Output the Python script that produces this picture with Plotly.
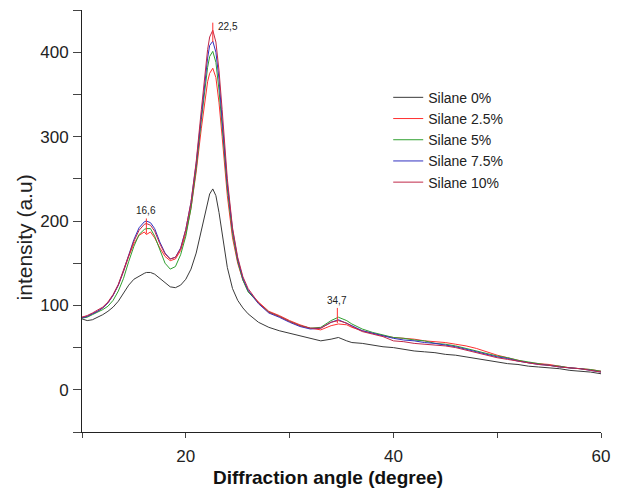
import plotly.graph_objects as go

angle = [10, 10.5, 11, 11.5, 12, 12.5, 13, 13.5, 14, 14.5, 15, 15.5, 16, 16.2, 16.6, 17, 17.5, 18, 18.5, 19,
         19.5, 20, 20.5, 21, 21.5, 21.8, 22.1, 22.3, 22.6, 22.9, 23.2, 23.5, 24, 24.5, 25, 25.5, 26,
         27, 28, 29, 30, 31, 32, 33, 34, 34.7, 35.5, 36, 37, 38, 39, 40, 41, 42, 43, 44, 45, 46, 47, 48,
         49, 50, 51, 52, 53, 54, 55, 56, 57, 58, 59, 60]

silane_0 = [84, 82, 83, 86, 89, 93, 98, 105, 115, 124, 131, 135, 138, 139, 139, 137, 132, 126, 122, 121,
            124, 131, 143, 162, 188, 205, 222, 232, 238, 230, 210, 185, 145, 120, 106, 97, 90,
            80, 74, 70, 67, 64, 61, 58, 60, 62, 58, 56, 55, 53, 51, 50, 48, 46, 45, 44, 42, 41, 39, 37,
            35, 33, 31, 30, 28, 27, 26, 25, 23, 22, 21, 19]
silane_25 = [86, 87, 90, 93, 97, 103, 112, 124, 140, 158, 173, 183, 187, 184, 187, 180, 168, 158, 153, 155,
             165, 185, 215, 258, 310, 340, 365, 375, 381, 370, 340, 300, 230, 180, 150, 130, 117,
             104, 93, 88, 82, 77, 73, 71, 76, 78, 77, 74, 70, 67, 64, 62, 61, 60, 58, 57, 56, 54, 52, 49,
             45, 41, 38, 35, 32, 31, 30, 28, 26, 25, 24, 22]
silane_5 = [85, 86, 89, 92, 95, 99, 106, 117, 132, 152, 170, 184, 190, 191, 191, 182, 165, 150, 143, 146,
            160, 182, 215, 262, 320, 355, 382, 395, 401, 388, 355, 312, 238, 185, 152, 130, 116,
            103, 92, 87, 81, 76, 73, 74, 82, 86, 82, 78, 72, 68, 65, 62, 61, 59, 58, 55, 54, 52, 49, 46,
            43, 40, 38, 35, 33, 31, 29, 28, 26, 25, 24, 22]
silane_75 = [85, 87, 90, 93, 97, 103, 112, 124, 141, 160, 178, 192, 199, 200, 198, 191, 175, 162, 155, 157,
             168, 190, 222, 268, 328, 362, 393, 408, 413, 400, 368, 320, 244, 190, 155, 132, 118,
             102, 91, 86, 80, 75, 72, 73, 80, 83, 79, 76, 70, 67, 64, 61, 59, 58, 56, 55, 53, 51, 48, 45,
             42, 39, 37, 34, 32, 30, 29, 27, 26, 25, 23, 21]
silane_10 = [86, 88, 91, 94, 98, 104, 113, 125, 141, 159, 176, 189, 196, 197, 195, 188, 173, 161, 155, 157,
             167, 190, 222, 270, 332, 368, 403, 418, 426, 412, 378, 332, 250, 192, 157, 134, 120,
             103, 92, 87, 81, 76, 73, 73, 80, 82, 79, 75, 69, 66, 63, 58, 57, 55, 54, 53, 52, 50, 47, 44,
             41, 38, 36, 34, 32, 30, 29, 27, 26, 25, 23, 21]

series_names = ["Silane 0%", "Silane 2.5%", "Silane 5%", "Silane 7.5%", "Silane 10%"]
series_values = [silane_0, silane_25, silane_5, silane_75, silane_10]
series_colors = ["#3a3a3a", "#ff3030", "#30a030", "#3030c0", "#c02848"]

peak_labels = ["16,6", "22,5", "34,7"]
peak_x = [16.2, 22.6, 34.6]
peak_y0 = [185, 412, 79]
peak_y1 = [203, 435, 97]

x_tickvals = [10, 20, 30, 40, 50, 60]
x_ticktext = ["", "20", "", "40", "", "60"]
y_tickvals = [-50, 0, 50, 100, 150, 200, 250, 300, 350, 400, 450]
y_ticktext = ["", "0", "", "100", "", "200", "", "300", "", "400", ""]

fig = go.Figure()
for name, vals, col in zip(series_names, series_values, series_colors):
    fig.add_trace(go.Scatter(x=angle, y=vals, mode="lines", name=name,
                             line=dict(color=col, width=1)))

for lab, px, y0, y1 in zip(peak_labels, peak_x, peak_y0, peak_y1):
    fig.add_shape(type="line", x0=px, x1=px, y0=y0, y1=y1, xref="x", yref="y",
                  line=dict(color="#ff3030", width=1))
    if lab == "22,5":
        fig.add_annotation(x=px, y=y1, text=lab, showarrow=False, xanchor="left", yanchor="middle",
                           xshift=3, yshift=-4, font=dict(size=10, color="#222"))
    else:
        fig.add_annotation(x=px, y=y1, text=lab, showarrow=False, xanchor="center", yanchor="bottom",
                           yshift=0, font=dict(size=10, color="#222"))

# axis titles
fig.add_annotation(x=0.474, y=-0.109, xref="paper", yref="paper", text="<b>Diffraction angle (degree)</b>",
                   showarrow=False, xanchor="center", yanchor="middle", font=dict(size=19, color="#111"))
fig.add_annotation(x=-0.111, y=0.462, xref="paper", yref="paper", text="intensity (a.u)", textangle=-90,
                   showarrow=False, xanchor="center", yanchor="middle", font=dict(size=21, color="#222"))

fig.update_layout(
    width=620, height=488,
    margin=dict(l=82, r=17, t=10, b=56),
    paper_bgcolor="white", plot_bgcolor="white",
    font=dict(family="Liberation Sans, Arial, sans-serif", color="#222"),
    showlegend=True,
    legend=dict(x=0.59, y=0.83, xanchor="left", yanchor="top", bgcolor="rgba(0,0,0,0)",
                font=dict(size=14, color="#222"), tracegroupgap=0, itemwidth=30),
    xaxis=dict(range=[10, 60], tickvals=x_tickvals, ticktext=x_ticktext, ticks="outside", ticklen=5,
               showline=True, linecolor="#222", linewidth=1, showgrid=False, zeroline=False,
               tickfont=dict(size=17), ticklabelstandoff=4),
    yaxis=dict(range=[-50, 450], tickvals=y_tickvals, ticktext=y_ticktext, ticks="outside", ticklen=8,
               showline=True, linecolor="#222", linewidth=1, showgrid=False, zeroline=False,
               tickfont=dict(size=17), ticklabelstandoff=1),
)

fig.write_html("out.html")
